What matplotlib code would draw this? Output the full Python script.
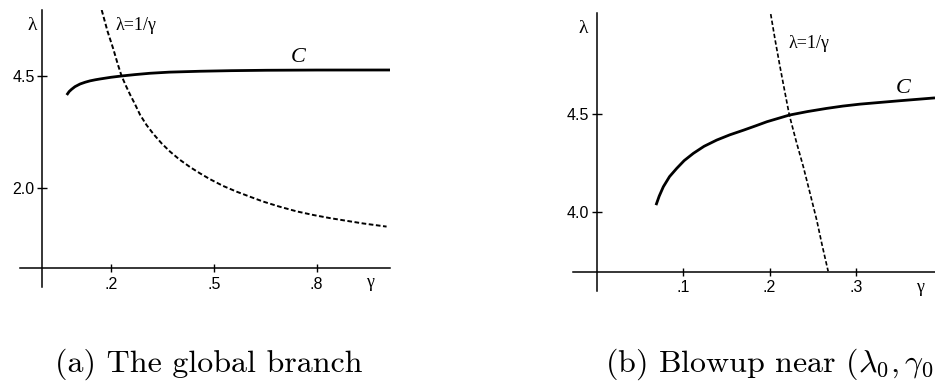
import matplotlib
matplotlib.use("Agg")
import matplotlib.pyplot as plt

plt.rcParams["mathtext.fontset"] = "cm"

# ---- panel (a): the global branch ----
a_curve_gamma = [0.071, 0.078, 0.085, 0.095, 0.110, 0.125, 0.139, 0.155, 0.168, 0.200,
                 0.231, 0.270, 0.314, 0.370, 0.460, 0.550, 0.654, 0.800, 1.014]
a_curve_lambda = [4.074, 4.150, 4.200, 4.260, 4.320, 4.360, 4.390, 4.415, 4.432, 4.470,
                  4.499, 4.530, 4.560, 4.585, 4.605, 4.618, 4.627, 4.632, 4.633]
a_hyp_gamma = [0.173, 0.190, 0.207, 0.220, 0.231, 0.243, 0.256, 0.270, 0.285, 0.304,
               0.324, 0.348, 0.372, 0.400, 0.431, 0.460, 0.489, 0.527, 0.567, 0.605,
               0.644, 0.690, 0.742, 0.790, 0.839, 0.887, 0.936, 1.004]
a_hyp_lambda = [5.975, 5.500, 5.100, 4.760, 4.500, 4.290, 4.080, 3.870, 3.630, 3.400,
                3.200, 2.990, 2.810, 2.630, 2.460, 2.320, 2.190, 2.040, 1.910, 1.800,
                1.690, 1.580, 1.470, 1.390, 1.320, 1.260, 1.200, 1.130]
a_xticks = [0.2, 0.5, 0.8]
a_xlabels = [".2", ".5", ".8"]
a_yticks = [2.0, 4.5]
a_ylabels = ["2.0", "4.5"]

# ---- panel (b): blowup near (lambda0, gamma0) ----
b_curve_gamma = [0.0683, 0.072, 0.0768, 0.084, 0.0923, 0.101, 0.1116, 0.124, 0.1387,
                 0.154, 0.170, 0.184, 0.197, 0.210, 0.223, 0.244, 0.266, 0.285, 0.305,
                 0.350, 0.392]
b_curve_lambda = [4.034, 4.080, 4.128, 4.180, 4.222, 4.262, 4.299, 4.335, 4.367,
                  4.394, 4.418, 4.440, 4.461, 4.478, 4.495, 4.513, 4.529, 4.541, 4.551,
                  4.568, 4.583]
b_hyp_gamma = [0.2014, 0.2065, 0.2122, 0.2175, 0.223, 0.231, 0.2392, 0.247, 0.2548,
               0.261, 0.268]
b_hyp_lambda = [5.012, 4.880, 4.742, 4.620, 4.495, 4.360, 4.231, 4.095, 3.957,
                3.830, 3.696]
b_xticks = [0.1, 0.2, 0.3]
b_xlabels = [".1", ".2", ".3"]
b_yticks = [4.0, 4.5]
b_ylabels = ["4.0", "4.5"]

W, H = 935, 389
fig = plt.figure(figsize=(W / 100, H / 100), dpi=100)


def px_axes(x0, y0, x1, y1):
    # pixel box (left, top, right, bottom) -> figure fraction
    return fig.add_axes([x0 / W, 1 - y1 / H, (x1 - x0) / W, (y1 - y0) / H])


def style(ax, xaxis_at, xticks, xlabels, yticks, ylabels):
    for s in ("top", "right"):
        ax.spines[s].set_visible(False)
    ax.spines["left"].set_position(("data", 0))
    ax.spines["bottom"].set_position(("data", xaxis_at))
    for s in ("left", "bottom"):
        ax.spines[s].set_linewidth(1.1)
    ax.set_xticks(xticks)
    ax.set_xticklabels(xlabels, fontfamily="Liberation Sans")
    ax.set_yticks(yticks)
    ax.set_yticklabels(ylabels, fontfamily="Liberation Sans")
    ax.tick_params(axis="x", direction="inout", length=6, width=1, labelsize=11.5, pad=3)
    ax.tick_params(axis="y", direction="inout", length=7, width=1, labelsize=11.5, pad=2)
    ax.patch.set_visible(False)


serif = "Liberation Serif"

# (a)
ax1 = px_axes(20, 10, 390, 287)
ax1.set_xlim(-0.0653, 1.014)
ax1.set_ylim(-0.221, 5.975)
ax1.plot(a_curve_gamma, a_curve_lambda, color="black", lw=2.0, solid_capstyle="butt")
ax1.plot(a_hyp_gamma, a_hyp_lambda, color="black", lw=1.4, dashes=(2.4, 1.3))
style(ax1, 0.197, a_xticks, a_xlabels, a_yticks, a_ylabels)
ax1.text(-0.030, 5.62, "λ", fontfamily=serif, fontsize=14, ha="center", va="center")
ax1.text(0.956, -0.11, "γ", fontfamily=serif, fontsize=13, ha="center", va="center")
ax1.text(0.212, 5.62, "λ=1/γ", fontfamily=serif, fontsize=13, ha="left", va="center")
ax1.text(0.746, 4.92, "C", fontfamily=serif, fontstyle="italic", fontsize=16,
         ha="center", va="center")

# (b)
ax2 = px_axes(573, 13.3, 935, 290.7)
ax2.set_xlim(-0.028, 0.392)
ax2.set_ylim(3.596, 5.016)
ax2.plot(b_curve_gamma, b_curve_lambda, color="black", lw=2.0, solid_capstyle="butt")
ax2.plot(b_hyp_gamma, b_hyp_lambda, color="black", lw=1.2, dashes=(2.6, 1.4))
style(ax2, 3.693, b_xticks, b_xlabels, b_yticks, b_ylabels)
ax2.text(-0.0164, 4.94, "λ", fontfamily=serif, fontsize=14, ha="center", va="center")
ax2.text(0.3746, 3.614, "γ", fontfamily=serif, fontsize=13, ha="center", va="center")
ax2.text(0.2218, 4.862, "λ=1/γ", fontfamily=serif, fontsize=13, ha="left", va="center")
ax2.text(0.355, 4.632, "C", fontfamily=serif, fontstyle="italic", fontsize=16,
         ha="center", va="center")

# captions (the (b) caption is cut at the right edge of the original figure)
fig.text(55 / W, 1 - 364 / H, "(a) The global branch", fontfamily="cmr10",
         fontsize=23, ha="left", va="center")
fig.text(933 / W, 1 - 364 / H, r"(b) Blowup near $(\lambda_0, \gamma_0$",
         fontfamily="cmr10", fontsize=23, ha="right", va="center")

fig.savefig("out.png", dpi=100)
